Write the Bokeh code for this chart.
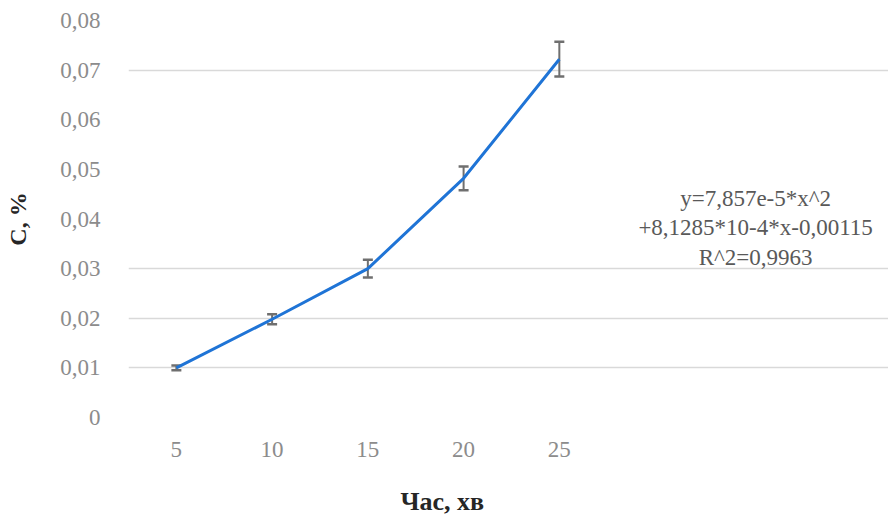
from bokeh.plotting import figure
from bokeh.models import Range1d, FixedTicker, CustomJSTickFormatter, Title, Label
from bokeh.embed import file_html
from bokeh.resources import INLINE

# ---- data ----
hours = [5, 10, 15, 20, 25]
conc = [0.0100, 0.0198, 0.0300, 0.0482, 0.0722]
err = [0.0005, 0.0010, 0.0018, 0.0024, 0.0035]
y_ticks = [0, 0.01, 0.02, 0.03, 0.04, 0.05, 0.06, 0.07, 0.08]
grid_ticks = [0, 0.01, 0.02, 0.03, 0.07, 0.08]
eq_lines = ["y=7,857e-5*x^2", "+8,1285*10-4*x-0,00115", "R^2=0,9963"]
x_title = "Час, хв"
y_title = "C, %"

FONT = "Liberation Serif"

p = figure(width=888, height=522, output_backend="svg", toolbar_location=None,
           x_range=Range1d(2.5, 42.19), y_range=Range1d(0, 0.08),
           min_border_left=128, min_border_right=0, min_border_top=20,
           min_border_bottom=105, outline_line_color=None,
           background_fill_color="white", border_fill_color="white")

# grid
p.xgrid.grid_line_color = None
p.ygrid.ticker = FixedTicker(ticks=grid_ticks)
p.ygrid.grid_line_color = "#d9d9d9"
p.ygrid.grid_line_width = 1.5

# y axis
ya = p.yaxis[0]
ya.ticker = FixedTicker(ticks=y_ticks)
ya.formatter = CustomJSTickFormatter(code="""
  if (Math.abs(tick) < 1e-9) return "0";
  return tick.toFixed(2).replace(".", ",");
""")
ya.axis_line_color = None
ya.major_tick_line_color = None
ya.minor_tick_line_color = None
ya.major_tick_out = 0
ya.major_tick_in = 0
ya.major_label_standoff = 28
ya.major_label_text_font = FONT
ya.major_label_text_font_size = "23px"
ya.major_label_text_color = "#8c8c8c"
ya.axis_label = y_title
ya.axis_label_text_font = FONT
ya.axis_label_text_font_size = "24px"
ya.axis_label_text_font_style = "bold"
ya.axis_label_text_color = "#262626"
ya.axis_label_standoff = 26

# x axis
xa = p.xaxis[0]
xa.ticker = FixedTicker(ticks=hours)
xa.axis_line_color = None
xa.major_tick_line_color = None
xa.minor_tick_line_color = None
xa.major_tick_out = 0
xa.major_tick_in = 0
xa.major_label_standoff = 24
xa.major_label_text_font = FONT
xa.major_label_text_font_size = "23px"
xa.major_label_text_color = "#8c8c8c"
# blank axis label used only as a spacer above the title
xa.axis_label = " "
xa.axis_label_text_font_size = "14px"
xa.axis_label_standoff = 4

xt = Title(text=x_title, align="left", offset=272, text_font=FONT,
           text_font_size="26px", text_font_style="bold", text_color="#262626",
           standoff=4)
p.add_layout(xt, "below")

# error bars
lower = [c - e for c, e in zip(conc, err)]
upper = [c + e for c, e in zip(conc, err)]
p.segment(x0=hours, y0=lower, x1=hours, y1=upper, line_color="#6f6f6f", line_width=2)
p.scatter(x=hours + hours, y=upper + lower, marker="dash", size=10,
          line_color="#6f6f6f", line_width=2.5)

# line
p.line(hours, conc, line_color="#1f74d6", line_width=3)

# equation
eq_x = 35.25
eq_y = [0.04413, 0.03829, 0.03224]
for t, yy in zip(eq_lines, eq_y):
    p.add_layout(Label(x=eq_x, y=yy, text=t, text_align="center",
                       text_baseline="middle", text_font=FONT,
                       text_font_size="23px", text_color="#595959"))

open("out.html", "w").write(file_html(p, INLINE))
